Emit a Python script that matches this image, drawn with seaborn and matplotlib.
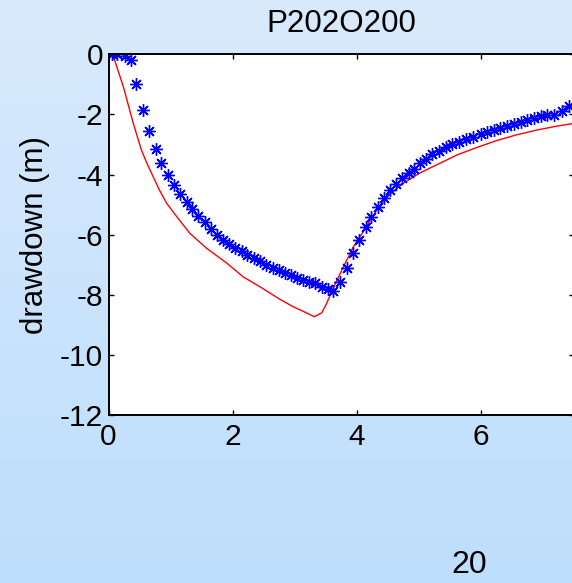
import numpy as np
import pandas as pd
import matplotlib
matplotlib.use("Agg")
import matplotlib.pyplot as plt
import seaborn as sns
from matplotlib.colors import LinearSegmentedColormap

# ---- data ----
obs_time = [0.05, 0.14, 0.26, 0.36, 0.45, 0.55, 0.66, 0.76, 0.85, 0.96, 1.06, 1.16, 1.26,
            1.35, 1.45, 1.55, 1.65, 1.75, 1.85, 1.94, 2.04, 2.15, 2.24, 2.34, 2.44, 2.54,
            2.65, 2.75, 2.84, 2.95, 3.04, 3.13, 3.24, 3.33, 3.44, 3.54, 3.62, 3.74, 3.84,
            3.94, 4.04, 4.15, 4.24, 4.34, 4.44, 4.54, 4.63, 4.74, 4.84, 4.93, 5.03, 5.12,
            5.22, 5.33, 5.44, 5.54, 5.65, 5.76, 5.88, 6.00, 6.11, 6.21, 6.32, 6.43, 6.54,
            6.65, 6.75, 6.86, 6.97, 7.08, 7.18, 7.31, 7.42]
obs_drawdown = [0.0, 0.0, -0.06, -0.19, -0.99, -1.85, -2.55, -3.14, -3.62, -4.00, -4.35,
                -4.66, -4.92, -5.16, -5.38, -5.59, -5.81, -6.02, -6.18, -6.32, -6.43, -6.54,
                -6.68, -6.79, -6.87, -7.01, -7.12, -7.18, -7.27, -7.34, -7.43, -7.51, -7.56,
                -7.62, -7.73, -7.80, -7.86, -7.57, -7.10, -6.60, -6.17, -5.76, -5.40, -5.07,
                -4.79, -4.51, -4.32, -4.13, -3.94, -3.81, -3.63, -3.48, -3.33, -3.21, -3.09,
                -2.99, -2.91, -2.83, -2.74, -2.66, -2.58, -2.52, -2.46, -2.39, -2.32, -2.25,
                -2.19, -2.13, -2.05, -2.03, -2.01, -1.88, -1.72]

sim_time = [0.0, 0.08, 0.24, 0.40, 0.53, 0.62, 0.72, 0.82, 0.94, 1.10, 1.31, 1.58, 1.91,
            2.17, 2.44, 2.74, 2.98, 3.17, 3.32, 3.44, 3.52, 3.63, 3.79, 3.95, 4.11, 4.22,
            4.38, 4.54, 4.75, 5.02, 5.29, 5.62, 5.94, 6.26, 6.58, 6.91, 7.23, 7.50]
sim_drawdown = [0.0, -0.08, -1.08, -2.30, -3.18, -3.63, -4.07, -4.51, -4.96, -5.40, -5.95,
                -6.45, -6.95, -7.40, -7.73, -8.12, -8.40, -8.58, -8.73, -8.60, -8.28, -7.75,
                -7.07, -6.40, -5.90, -5.52, -5.02, -4.65, -4.30, -3.95, -3.68, -3.35, -3.10,
                -2.87, -2.68, -2.52, -2.39, -2.30]

x_ticks = [0, 2, 4, 6]
y_ticks = [0, -2, -4, -6, -8, -10, -12]
title = "P202O200"
ylabel = "drawdown (m)"
page_number = "20"

obs = pd.DataFrame({"time": obs_time, "drawdown": obs_drawdown})
sim = pd.DataFrame({"time": sim_time, "drawdown": sim_drawdown})

# ---- style ----
sns.set_style("ticks")
plt.rcParams["font.family"] = ["Liberation Sans", "DejaVu Sans"]
plt.rcParams["text.color"] = "black"
plt.rcParams["axes.labelcolor"] = "black"

W, H = 572, 583
fig = plt.figure(figsize=(W / 100, H / 100), dpi=100)

# background gradient (slide)
bg = fig.add_axes([0, 0, 1, 1], zorder=-10)
cmap = LinearSegmentedColormap.from_list("bg", ["#d9eafc", "#bddefd"])
bg.imshow(np.linspace(0, 1, 256).reshape(-1, 1), aspect="auto", cmap=cmap,
          extent=[0, 1, 0, 1], origin="upper")
bg.set_axis_off()

left, right = 108.5 / W, 573.5 / W
top, bottom = 1 - 54.3 / H, 1 - 415 / H
ax = fig.add_axes([left, bottom, right - left, top - bottom])
ax.set_facecolor("white")

sns.lineplot(data=sim, x="time", y="drawdown", ax=ax, color="red", lw=1.0,
             sort=False, estimator=None)
sns.lineplot(data=obs, x="time", y="drawdown", ax=ax, color="blue", linestyle="none",
             marker=(8, 2, 0), markersize=9, markeredgewidth=1.0, markeredgecolor="blue",
             sort=False, estimator=None)

ax.set_xlim(0, 7.5)
ax.set_ylim(-12, 0)
ax.set_xticks(x_ticks)
ax.set_yticks(y_ticks)
ax.set_xticklabels([str(t) for t in x_ticks])
ax.set_yticklabels([str(t) for t in y_ticks])
ax.tick_params(direction="in", length=3.5, width=1, top=True, right=True,
               labelsize=21.5, colors="black", labelcolor="black", pad=6)
ax.tick_params(axis="y", pad=4)
for s in ax.spines.values():
    s.set_linewidth(1.4)
    s.set_color("black")

ax.set_xlabel("")
ax.set_ylabel(ylabel, fontsize=22.5, color="black")
ax.yaxis.set_label_coords(-0.126, 0.5)
ax.set_title(title, fontsize=22.5, pad=16, color="black")

fig.text(469 / W, 1 - 565 / H, page_number, fontsize=23, ha="center", va="center",
         color="black")

fig.savefig("out.png", dpi=100)
